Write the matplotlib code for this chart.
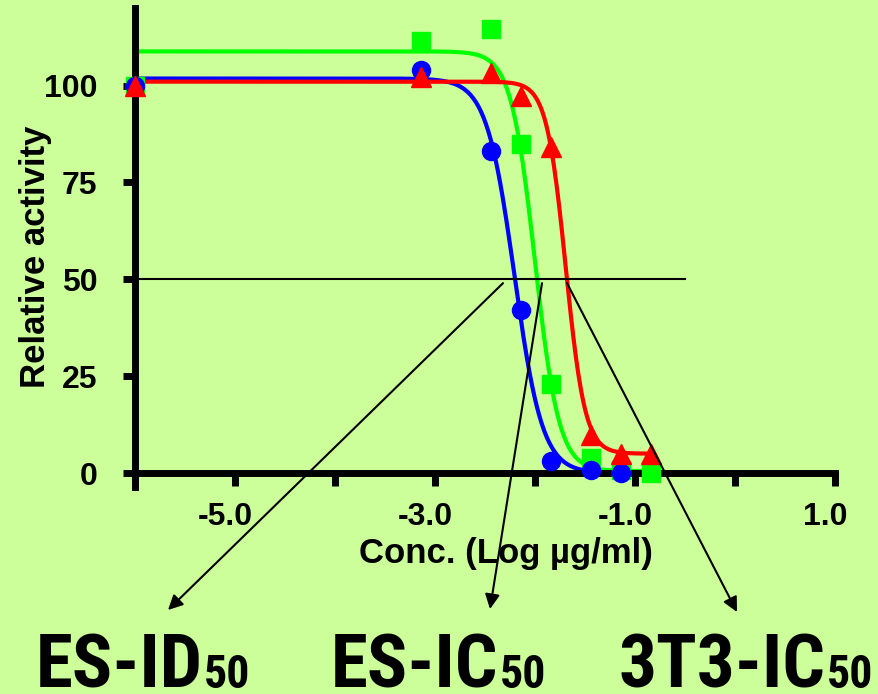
import numpy as np
import matplotlib
matplotlib.use("Agg")
import matplotlib.pyplot as plt
import matplotlib.transforms as mtransforms

plt.rcParams['font.family'] = ['Liberation Sans', 'DejaVu Sans']
plt.rcParams['font.weight'] = 'bold'

bg = "#CCFF99"

# log concentration of each dilution
conc_blue = [-6.0, -3.14, -2.44, -2.14, -1.84, -1.44, -1.14]
conc_all = [-6.0, -3.14, -2.44, -2.14, -1.84, -1.44, -1.14, -0.84]

act_blue = [100, 104, 83, 42, 3.1, 0.8, 0.0]
act_green = [100, 111.4, 114.5, 85, 23, 3.9, 0.8, 0.1]
act_red = [100, 102.3, 103.3, 97.2, 84.2, 9.8, 4.9, 4.9]

# fitted 4-parameter logistic curves: top, bottom, logIC50, hill slope
fit_blue = [101.8, 0.0, -2.205, 3.1]
fit_green = [108.8, 0.5, -2.0, 3.6]
fit_red = [101.0, 5.0, -1.692, 4.5]

# where the arrows leave the 50 % line
arrow_x = [-2.32, -1.93, -1.68]
labels = [("ES-ID", "50"), ("ES-IC", "50"), ("3T3-IC", "50")]


def logistic(x, p):
    top, bottom, c, h = p
    return bottom + (top - bottom) / (1 + 10 ** ((x - c) * h))


fig = plt.figure(figsize=(8.79, 6.94), dpi=100)
fig.patch.set_facecolor(bg)
ax = fig.add_axes([135 / 879, 207 / 694, 700 / 879, 479 / 694])
ax.set_facecolor(bg)

series = [
    (conc_all, act_green, fit_green, "#00FF00", "s"),
    (conc_blue, act_blue, fit_blue, "#0000FF", "o"),
    (conc_all, act_red, fit_red, "#FF0000", "^"),
]
for xs, ys, p, col, mk in series:
    xx = np.linspace(xs[0], xs[-1], 400)
    ax.plot(xx, logistic(xx, p), color=col, lw=3, clip_on=False)
for xs, ys, p, col, mk in series:
    ax.plot(xs, ys, mk, color=col, ms=13 if mk != "^" else 14, mec=col, clip_on=False, zorder=3)

ax.plot([-6, -0.5], [50, 50], color="black", lw=1.5)

ax.set_xlim(-6, 1)
ax.set_ylim(-3.6, 120)
ax.spines['top'].set_visible(False)
ax.spines['right'].set_visible(False)
ax.spines['bottom'].set_position(('data', 0))
ax.spines['left'].set_linewidth(5)
ax.spines['bottom'].set_linewidth(5)

ax.set_xticks(np.arange(-6, 2, 1))
ax.set_xticklabels(["", "-5.0", "", "-3.0", "", "-1.0", "", "1.0"])
ax.set_yticks([0, 25, 50, 75, 100])
ax.set_yticklabels(["0", "25", "50", "75", "100"])
ax.tick_params(axis='both', direction='out', length=9, width=5, labelsize=23)
ax.tick_params(axis='y', pad=18)
ax.tick_params(axis='x', pad=12)
shift = mtransforms.ScaledTranslation(-0.1, 0, fig.dpi_scale_trans)
for lab in ax.get_xticklabels():
    lab.set_transform(lab.get_transform() + shift)

ax.set_ylabel("Relative activity", fontsize=25, fontweight='bold')
ax.yaxis.set_label_coords(-0.118, 0.48)
ax.set_xlabel("Conc. (Log µg/ml)", fontsize=25, fontweight='bold')
ax.xaxis.set_label_coords(0.53, -0.105)

# arrows to the labels
tips = [(168, 610), (490, 609), (737, 612)]
for xs, (tx, ty) in zip(arrow_x, tips):
    ax.annotate("", xy=(tx / 879, 1 - ty / 694), xycoords='figure fraction',
                xytext=(xs, 49), textcoords='data',
                arrowprops=dict(arrowstyle='-|>', color='black', lw=1.5,
                                mutation_scale=22, shrinkA=0, shrinkB=0))

big_font = ['Roboto Condensed', 'DejaVu Sans Condensed', 'Liberation Sans']
starts = [36, 331, 619]
base_y = 6 / 694
fig.canvas.draw()
renderer = fig.canvas.get_renderer()
for (main, sub), x0 in zip(labels, starts):
    t = fig.text(x0 / 879, base_y, main, fontsize=54, fontweight='bold',
                 family=big_font, va='baseline', ha='left')
    bb = t.get_window_extent(renderer)
    fig.text(bb.x1 / fig.bbox.width + 1 / 879, base_y, sub, fontsize=33,
             fontweight='bold', family=big_font, va='baseline', ha='left')

fig.savefig("out.png", dpi=100, facecolor=bg)
